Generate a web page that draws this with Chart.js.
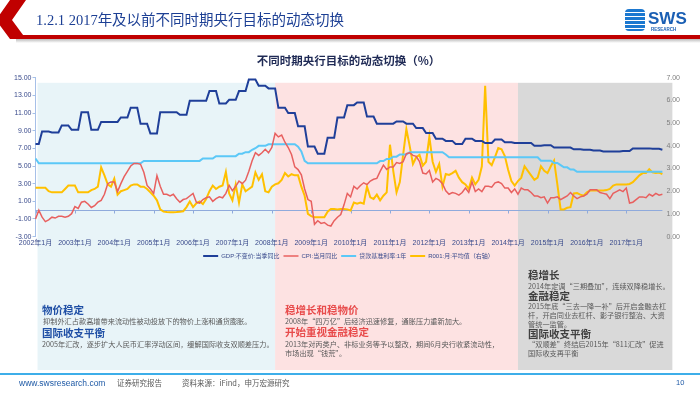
<!DOCTYPE html>
<html>
<head>
<meta charset="utf-8">
<script src="https://cdn.jsdelivr.net/npm/chart.js@4.4.0/dist/chart.umd.min.js"></script>
<style>
  html, body { margin: 0; padding: 0; background: #fff; }
  #page { position: relative; width: 700px; height: 394px; overflow: hidden; font-family: "Noto Sans CJK SC", "Noto Sans", sans-serif; }
  #chart { position: absolute; left: 0; top: 0; z-index: 1; }
  .txt { position: absolute; z-index: 2; white-space: nowrap; line-height: 1; }
  .h { font-size: 10.5px; font-weight: 700; }
  .b { font-size: 7.2px; color: #595959; }
  .blue { color: #1f4fa5; }
  .red { color: #e84c4c; }
  .gray { color: #404040; }
</style>
</head>
<body>
<div id="page">
  <!-- 页眉 -->
  <svg style="position:absolute;left:0;top:0;z-index:2" width="700" height="50">
    <defs>
      <linearGradient id="shadow" x1="0" y1="0" x2="0" y2="1">
        <stop offset="0" stop-color="#bbbbbb"/>
        <stop offset="1" stop-color="#ffffff"/>
      </linearGradient>
    </defs>
    <rect x="16" y="39" width="684" height="4" fill="url(#shadow)"/>
    <rect x="16" y="35" width="684" height="4" fill="#c00000"/>
    <polygon points="10,0 26,0 12,20 26,39 10,39 -4,20" fill="#c00000"/>
  </svg>
  <div class="txt" style="left:36px;top:12px;font-size:14.5px;color:#1c3f94;font-family:'Liberation Serif','Noto Sans CJK SC',serif;">1.2.1 2017<span style="font-family:'Noto Sans CJK SC';">年及以前不同时期央行目标的动态切换</span></div>
  <div class="txt" style="left:625px;top:9px;width:20px;height:22px;border-radius:4px;background:repeating-linear-gradient(180deg,#1b78d0 0 3px,#ffffff 3px 4px);"></div>
  <div class="txt" style="left:648px;top:10px;font-size:17px;font-weight:700;color:#1a5fb4;font-family:'Liberation Sans',sans-serif;">SWS</div>
  <div class="txt" style="left:651px;top:28px;font-size:4.5px;font-weight:700;color:#1a5fb4;font-family:'Liberation Sans',sans-serif;">RESEARCH</div>

  <canvas id="chart" width="700" height="394"></canvas>

  <!-- 注释文字 -->
  <div class="txt h blue" style="left:42px;top:305px;">物价稳定</div>
  <div class="txt b" style="left:43px;top:318px;">抑制外汇占款高增带来流动性被动投放下的物价上涨和通货膨胀。</div>
  <div class="txt h blue" style="left:42px;top:328px;">国际收支平衡</div>
  <div class="txt b" style="left:42px;top:341px;">2005年汇改，逐步扩大人民币汇率浮动区间，缓解国际收支双顺差压力。</div>

  <div class="txt h red" style="left:285px;top:305px;">稳增长和稳物价</div>
  <div class="txt b" style="left:285px;top:318px;">2008年“四万亿”后经济迅速修复，通胀压力重新加大。</div>
  <div class="txt h red" style="left:285px;top:327px;">开始重视金融稳定</div>
  <div class="txt b" style="left:285px;top:341px;">2013年对丙类户、非标业务等予以整改，期间6月央行收紧流动性，</div>
  <div class="txt b" style="left:285px;top:350px;">市场出现“钱荒”。</div>

  <div class="txt h gray" style="left:528px;top:270px;">稳增长</div>
  <div class="txt b" style="left:528px;top:283px;">2014年定调“三期叠加”，连续双降稳增长。</div>
  <div class="txt h gray" style="left:528px;top:291px;">金融稳定</div>
  <div class="txt b" style="left:528px;top:303px;">2015年底“三去一降一补”后开启金融去杠</div>
  <div class="txt b" style="left:528px;top:312px;">杆，开启同业去杠杆、影子银行整治、大资</div>
  <div class="txt b" style="left:528px;top:321px;">管统一监管。</div>
  <div class="txt h gray" style="left:528px;top:329px;">国际收支平衡</div>
  <div class="txt b" style="left:528px;top:341px;">“双顺差”终结后2015年“811汇改”促进</div>
  <div class="txt b" style="left:528px;top:350px;">国际收支再平衡</div>

  <!-- 页脚 -->
  <div style="position:absolute;left:0;top:373px;width:700px;height:2px;background:#3daee9;z-index:2;"></div>
  <div class="txt" style="left:19px;top:379px;font-size:8.5px;color:#1f5aa6;font-family:'Liberation Sans',sans-serif;">www.swsresearch.com</div>
  <div class="txt" style="left:117px;top:379px;font-size:7.5px;color:#595959;">证券研究报告</div>
  <div class="txt" style="left:182px;top:379px;font-size:7.5px;color:#595959;">资料来源：iFind，申万宏源研究</div>
  <div class="txt" style="left:676px;top:379px;font-size:7.5px;color:#1f5aa6;font-family:'Liberation Sans',sans-serif;">10</div>
</div>

<script>
// 年份与月份标签
const years = [2002, 2003, 2004, 2005, 2006, 2007, 2008, 2009, 2010, 2011, 2012, 2013, 2014, 2015, 2016, 2017];
const monthLabels = [];
years.forEach(y => { for (let m = 1; m <= 12; m++) monthLabels.push(y + '年' + m + '月'); });

// GDP:不变价:当季同比 (%)
const gdpYoY = [
  7.5, 7.5, 8.9, 8.9, 8.9, 8.8, 8.8, 8.8, 9.6, 9.6, 9.6, 9.1,
  9.1, 9.1, 11.1, 11.1, 11.1, 9.1, 9.1, 9.1, 10.0, 10.0, 10.0, 10.0,
  10.0, 10.0, 10.5, 10.5, 10.5, 11.6, 11.6, 11.6, 9.8, 9.8, 9.8, 8.7,
  8.7, 8.7, 11.1, 11.1, 11.1, 11.1, 11.1, 11.1, 10.8, 10.8, 10.8, 12.4,
  12.4, 12.4, 12.4, 12.4, 12.4, 13.5, 13.5, 13.5, 12.1, 12.1, 12.1, 12.5,
  12.5, 12.5, 13.5, 13.5, 13.5, 14.8, 14.8, 14.8, 14.1, 14.1, 14.1, 13.8,
  13.8, 13.8, 11.6, 11.6, 11.6, 11.0, 11.0, 11.0, 9.5, 9.5, 9.5, 7.2,
  7.2, 7.2, 6.4, 6.4, 6.4, 8.2, 8.2, 8.2, 10.5, 10.5, 10.5, 11.9,
  11.9, 11.9, 12.2, 12.2, 12.2, 10.6, 10.6, 10.6, 9.8, 9.8, 9.8, 9.8,
  9.8, 9.8, 10.05, 10.05, 10.05, 9.8, 9.8, 9.8, 9.3, 9.3, 9.3, 8.75,
  8.75, 8.75, 8.1, 8.1, 8.1, 7.85, 7.85, 7.85, 7.5, 7.5, 7.5, 8.1,
  8.1, 8.1, 7.85, 7.85, 7.85, 7.6, 7.6, 7.6, 8.0, 8.0, 8.0, 7.7,
  7.7, 7.7, 7.6, 7.6, 7.6, 7.6, 7.6, 7.6, 7.3, 7.3, 7.3, 7.35,
  7.35, 7.35, 7.1, 7.1, 7.1, 7.1, 7.1, 7.1, 6.9, 6.9, 6.9, 6.85,
  6.85, 6.85, 6.75, 6.75, 6.75, 6.65, 6.65, 6.65, 6.65, 6.65, 6.65, 6.7,
  6.7, 6.7, 7.0, 7.0, 7.0, 7.0, 7.0, 7.0, 6.95, 6.95, 6.95, 6.85
];

// CPI:当月同比 (%)
const cpiYoY = [
  -1.0, 0.0, -0.8, -1.3, -1.1, -0.8, -0.9, -0.7, -0.7, -0.8, -0.7, -0.4,
  0.4, 0.2, 0.9, 1.0, 0.7, 0.3, 0.5, 0.9, 1.1, 1.8, 3.0, 3.2,
  3.2, 2.1, 3.0, 3.8, 4.4, 5.0, 5.3, 5.3, 5.2, 4.3, 2.8, 2.4,
  1.9, 3.9, 2.7, 1.8, 1.8, 1.6, 1.8, 1.3, 0.9, 1.2, 1.3, 1.6,
  1.9, 0.9, 0.8, 1.2, 1.4, 1.5, 1.0, 1.3, 1.5, 1.4, 1.9, 2.8,
  2.2, 2.7, 3.3, 3.0, 3.4, 4.4, 5.6, 6.5, 6.2, 6.5, 6.9, 6.5,
  7.1, 8.7, 8.3, 8.5, 7.7, 7.1, 6.3, 4.9, 4.6, 4.0, 2.4, 1.2,
  1.0, -1.6, -1.2, -1.5, -1.4, -1.7, -1.8, -1.2, -0.8, -0.5, 0.6, 1.9,
  1.5, 2.7, 2.4, 2.8, 3.1, 2.9, 3.3, 3.5, 3.6, 4.4, 5.1, 4.6,
  4.9, 4.9, 5.4, 5.3, 5.5, 6.4, 6.5, 6.2, 6.1, 5.5, 4.2, 4.1,
  4.5, 3.2, 3.6, 3.4, 3.0, 2.2, 1.8, 2.0, 1.9, 1.7, 2.0, 2.5,
  2.0, 3.2, 2.1, 2.4, 2.1, 2.7, 2.7, 2.6, 3.1, 3.2, 3.0, 2.5,
  2.5, 2.0, 2.4, 1.8, 2.5, 2.3, 2.3, 2.0, 1.6, 1.6, 1.4, 1.5,
  0.8, 1.4, 1.4, 1.5, 1.2, 1.4, 1.6, 2.0, 1.6, 1.3, 1.5, 1.6,
  1.8, 2.3, 2.3, 2.3, 2.0, 1.9, 1.8, 1.3, 1.9, 2.1, 2.3, 2.1,
  2.5, 0.8, 0.9, 1.2, 1.5, 1.5, 1.4, 1.8, 1.6, 1.9, 1.7, 1.8
];

// 贷款基准利率:1年 (%)
const loanRate1Y = [
  5.85, 5.31, 5.31, 5.31, 5.31, 5.31, 5.31, 5.31, 5.31, 5.31, 5.31, 5.31,
  5.31, 5.31, 5.31, 5.31, 5.31, 5.31, 5.31, 5.31, 5.31, 5.31, 5.31, 5.31,
  5.31, 5.31, 5.31, 5.31, 5.31, 5.31, 5.31, 5.31, 5.31, 5.58, 5.58, 5.58,
  5.58, 5.58, 5.58, 5.58, 5.58, 5.58, 5.58, 5.58, 5.58, 5.58, 5.58, 5.58,
  5.58, 5.58, 5.58, 5.85, 5.85, 5.85, 5.85, 6.12, 6.12, 6.12, 6.12, 6.12,
  6.12, 6.12, 6.39, 6.39, 6.57, 6.57, 6.84, 7.02, 7.29, 7.29, 7.29, 7.47,
  7.47, 7.47, 7.47, 7.47, 7.47, 7.47, 7.47, 7.47, 7.20, 6.66, 5.58, 5.31,
  5.31, 5.31, 5.31, 5.31, 5.31, 5.31, 5.31, 5.31, 5.31, 5.31, 5.31, 5.31,
  5.31, 5.31, 5.31, 5.31, 5.31, 5.31, 5.31, 5.31, 5.31, 5.56, 5.56, 5.81,
  5.81, 6.06, 6.06, 6.31, 6.31, 6.31, 6.56, 6.56, 6.56, 6.56, 6.56, 6.56,
  6.56, 6.56, 6.56, 6.56, 6.56, 6.31, 6.00, 6.00, 6.00, 6.00, 6.00, 6.00,
  6.00, 6.00, 6.00, 6.00, 6.00, 6.00, 6.00, 6.00, 6.00, 6.00, 6.00, 6.00,
  6.00, 6.00, 6.00, 6.00, 6.00, 6.00, 6.00, 6.00, 6.00, 6.00, 5.60, 5.60,
  5.60, 5.60, 5.35, 5.35, 5.10, 4.85, 4.85, 4.60, 4.60, 4.35, 4.35, 4.35,
  4.35, 4.35, 4.35, 4.35, 4.35, 4.35, 4.35, 4.35, 4.35, 4.35, 4.35, 4.35,
  4.35, 4.35, 4.35, 4.35, 4.35, 4.35, 4.35, 4.35, 4.35, 4.35, 4.35, 4.35
];

// R001:月:平均值 (%) 右轴
const r001Avg = [
  2.15, 2.15, 2.15, 2.15, 2.0, 1.95, 1.95, 1.95, 1.95, 2.1, 2.25, 2.25,
  2.25, 1.95, 1.95, 1.95, 1.95, 2.05, 2.1, 2.2, 3.05, 2.7, 2.3, 2.2,
  2.55, 1.85, 2.0, 2.05, 2.1, 2.25, 2.3, 2.3, 2.2, 2.2, 2.1, 1.95,
  1.8, 1.6, 1.2, 1.1, 1.08, 1.07, 1.07, 1.08, 1.1, 1.12, 1.3, 1.55,
  1.3, 1.47, 1.55, 1.44, 1.66, 2.0, 2.25, 2.1, 2.2, 2.25, 2.85, 1.9,
  1.6, 2.3, 1.5, 2.3, 2.0, 2.1, 2.2, 2.83, 2.5, 2.75, 2.0, 1.95,
  2.2, 2.3, 2.35, 2.5, 2.8, 2.65, 2.75, 2.7, 2.7, 2.2, 1.8, 1.0,
  0.9, 0.85, 0.85, 0.85, 0.85, 1.1, 1.22, 1.22, 1.2, 1.22, 1.22, 1.2,
  1.15, 1.5, 1.45, 1.5, 1.45, 2.2, 1.73, 1.66, 1.85, 1.6, 1.8, 1.95,
  4.05, 2.9, 1.95, 2.4, 3.6, 4.74, 4.0, 3.2, 3.5, 3.6, 3.13, 3.3,
  4.4, 3.3, 2.85, 3.2, 2.2, 2.76, 2.72, 2.8, 2.9, 2.6, 2.4, 2.3,
  2.1, 2.6, 2.3, 2.5, 3.1, 6.65, 3.3, 3.15, 3.5, 3.9, 3.85, 3.55,
  2.95, 2.45, 2.25, 2.45, 2.6, 3.1, 2.9, 2.7, 2.5, 2.6, 3.1, 2.9,
  2.8, 3.1, 3.35, 2.3, 1.2, 1.2, 1.27, 1.3, 1.9, 1.92, 1.85, 1.8,
  1.95, 2.03, 2.03, 2.03, 2.03, 2.03, 2.05, 2.1, 2.25, 2.3, 2.3, 2.3,
  2.3, 2.32, 2.4, 2.55, 2.7, 2.8, 2.8, 2.97, 2.83, 2.8, 2.82, 2.76
];

// 背景分段 (起始月份标签)
const periodStarts = ['2002年1月', '2008年2月', '2014年4月'];
const periodColors = ['#e8f4f8', '#fde2e2', '#d9d9d9'];

const axisBlue = '#3a4b8c';
const fontFamily = "'Liberation Sans', 'Noto Sans CJK SC', sans-serif";

// 背景色块
const bandPlugin = {
  id: 'bands',
  beforeDraw(chart) {
    const { ctx, chartArea, scales } = chart;
    const xs = scales.x;
    const top = chartArea.top + 5;
    const bottom = 370;
    ctx.save();
    periodStarts.forEach((lab, i) => {
      const x0 = xs.getPixelForValue(monthLabels.indexOf(lab)) + (i === 0 ? 2 : 0);
      const x1 = i + 1 < periodStarts.length ? xs.getPixelForValue(monthLabels.indexOf(periodStarts[i + 1])) : chartArea.right + 10;
      ctx.fillStyle = periodColors[i];
      ctx.fillRect(x0, top, x1 - x0, bottom - top);
    });
    ctx.restore();
  }
};

// 0 值处的横轴线和刻度
const zeroLinePlugin = {
  id: 'zeroLine',
  beforeDatasetsDraw(chart) {
    const { ctx, chartArea, scales } = chart;
    const y0 = Math.round(scales.y.getPixelForValue(0)) + 0.5;
    ctx.save();
    ctx.strokeStyle = '#8faadc';
    ctx.lineWidth = 1;
    ctx.beginPath();
    ctx.moveTo(chartArea.left, y0);
    ctx.lineTo(chartArea.right, y0);
    monthLabels.forEach((lab, i) => {
      if (lab.endsWith('年1月')) {
        const x = Math.round(scales.x.getPixelForValue(i)) + 0.5;
        ctx.moveTo(x, y0);
        ctx.lineTo(x, y0 + 3);
      }
    });
    ctx.stroke();
    ctx.restore();
  }
};

const ctx = document.getElementById('chart').getContext('2d');
new Chart(ctx, {
  type: 'line',
  data: {
    labels: monthLabels,
    datasets: [
      { label: 'GDP:不变价:当季同比', data: gdpYoY, borderColor: '#1f3f99', backgroundColor: '#1f3f99', borderWidth: 2, yAxisID: 'y' },
      { label: 'CPI:当月同比', data: cpiYoY, borderColor: '#e8605f', backgroundColor: '#e8605f', borderWidth: 1.5, yAxisID: 'y' },
      { label: '贷款基准利率:1年', data: loanRate1Y, borderColor: '#5bc8f7', backgroundColor: '#5bc8f7', borderWidth: 2, yAxisID: 'y' },
      { label: 'R001:月:平均值（右轴）', data: r001Avg, borderColor: '#ffc000', backgroundColor: '#ffc000', borderWidth: 2, yAxisID: 'y1' }
    ]
  },
  options: {
    responsive: false,
    animation: false,
    devicePixelRatio: 1,
    elements: { point: { radius: 0 }, line: { tension: 0 } },
    layout: { padding: { top: 50, left: 13, right: 16, bottom: 125 } },
    plugins: {
      title: {
        display: true,
        text: '不同时期央行目标的动态切换（%）',
        color: '#1f2a55',
        font: { size: 11.5, weight: 'bold', family: "'Noto Sans CJK SC', sans-serif" },
        padding: { top: 4, bottom: 10 }
      },
      legend: {
        position: 'bottom',
        labels: {
          usePointStyle: true,
          pointStyle: 'line',
          pointStyleWidth: 15,
          color: axisBlue,
          font: { size: 6, family: fontFamily },
          padding: 4
        }
      },
      tooltip: { enabled: false }
    },
    scales: {
      x: {
        grid: { display: false, drawTicks: false },
        border: { display: false },
        ticks: {
          autoSkip: false,
          maxRotation: 0,
          minRotation: 0,
          padding: 2,
          color: axisBlue,
          font: { size: 7, family: fontFamily },
          callback: function (v) {
            const lab = this.getLabelForValue(v);
            return lab.endsWith('年1月') ? lab : '';
          }
        }
      },
      y: {
        position: 'left',
        min: -3,
        max: 15,
        grid: { drawOnChartArea: false, drawTicks: true, tickLength: 3, color: '#a6c0e8' },
        border: { display: true, color: '#a6c0e8' },
        ticks: {
          stepSize: 2,
          padding: 1,
          color: axisBlue,
          font: { size: 7, family: fontFamily },
          callback: v => v.toFixed(2)
        }
      },
      y1: {
        position: 'right',
        min: 0,
        max: 7,
        grid: { display: false, drawTicks: false },
        border: { display: false },
        ticks: {
          stepSize: 1,
          padding: 4,
          color: '#7f7f7f',
          font: { size: 7, family: fontFamily },
          callback: v => v.toFixed(2)
        }
      }
    }
  },
  plugins: [bandPlugin, zeroLinePlugin]
});
</script>
</body>
</html>
